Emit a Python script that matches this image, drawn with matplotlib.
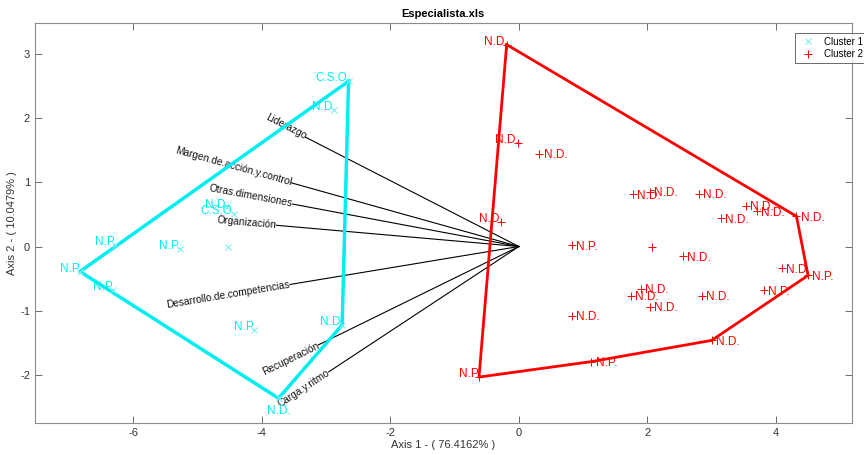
import numpy as np
import matplotlib
matplotlib.use('Agg')
import matplotlib.pyplot as plt

plt.rcParams['font.family'] = ['Liberation Sans', 'DejaVu Sans']
plt.rcParams['axes.unicode_minus'] = False

# cluster 1 (cyan x) points, labels and where the label sits
c1_x = [-2.65, -2.87, -4.54, -4.44, -4.52, -5.28, -6.28, -6.83, -6.32, -4.12, -2.75, -3.74]
c1_y = [2.57, 2.12, 0.61, 0.51, -0.01, -0.04, 0.03, -0.39, -0.68, -1.30, -1.22, -2.36]
c1_lab = ['C.S.O.', 'N.D.', 'N.D.', 'C.S.O.', '', 'N.P.', 'N.P.', 'N.P.', 'N.P.', 'N.P.', 'N.D.', 'N.D.']
c1_side = ['l', 'l', 'l', 'l', 'l', 'l', 'l', 'l', 'l', 'l', 'l', 'b']
c1_hull = [0, 10, 11, 7, 0]

# cluster 2 (red +)
c2_x = [-0.19, -0.02, 0.32, 1.77, 2.04, 2.80, 3.53, 3.71, 3.15, 4.32, -0.28, 0.82, 2.07,
        2.55, 4.09, 4.50, 3.81, 1.90, 1.75, 2.85, 2.04, 0.83, 3.00, 1.13, -0.62]
c2_y = [3.14, 1.61, 1.44, 0.81, 0.85, 0.82, 0.63, 0.55, 0.44, 0.47, 0.38, 0.02, 0.00,
        -0.15, -0.34, -0.45, -0.68, -0.66, -0.77, -0.77, -0.94, -1.08, -1.46, -1.79, -2.03]
c2_lab = ['N.D.', 'N.D.', 'N.D.', 'N.D.', 'N.D.', 'N.D.', 'N.D.', 'N.D.', 'N.D.', 'N.D.', 'N.D.', 'N.P.', '',
          'N.D.', 'N.D.', 'N.P.', 'N.P.', 'N.D.', 'N.D.', 'N.D.', 'N.D.', 'N.D.', 'N.D.', 'N.P.', 'N.P.']
c2_side = ['l', 'l', 'r', 'r', 'r', 'r', 'r', 'r', 'r', 'r', 'l', 'r', 'r',
           'r', 'r', 'r', 'r', 'r', 'r', 'r', 'r', 'r', 'r', 'r', 'l']
c2_hull = [0, 9, 15, 22, 23, 24, 0]

# variable vectors of the biplot
var_names = ['Liderazgo', 'Margen.de.acción.y.control', 'Otras.dimensiones', 'Organización',
             'Desarrollo.de.competencias', 'Recuperación', 'Carga.y.ritmo']
var_x = [-3.32, -3.54, -3.52, -3.77, -3.56, -3.12, -2.96]
var_y = [1.70, 0.99, 0.66, 0.33, -0.59, -1.53, -1.95]

cyan = '#00eef0'
red = '#ff0000'

fig = plt.figure(figsize=(8.64, 4.55), dpi=100)
ax = fig.add_axes([0.0405, 0.071, 0.9453, 0.879])
ax.set_xlim(-7.53, 5.18)
ax.set_ylim(-2.74, 3.48)

# biplot lines + rotated names
for name, x, y in zip(var_names, var_x, var_y):
    ax.plot([0, x], [0, y], color='black', lw=0.8, zorder=2)
    ang = np.degrees(np.arctan2(-y, -x))
    ax.text(x, y, name, rotation=ang, rotation_mode='anchor', ha='right', va='center',
            fontsize=7.3, color='#111111', transform_rotates_text=True, zorder=3)

# hulls
ax.plot([c1_x[i] for i in c1_hull], [c1_y[i] for i in c1_hull], color=cyan, lw=2.5, zorder=4)
ax.plot([c2_x[i] for i in c2_hull], [c2_y[i] for i in c2_hull], color=red, lw=2.0, zorder=4)

# points
ax.plot(c1_x, c1_y, 'x', color='#7ff0f0', ms=4, mew=0.8, ls='none', label='Cluster 1', zorder=5)
ax.plot(c2_x, c2_y, '+', color=red, ms=6, mew=0.7, ls='none', label='Cluster 2', zorder=5)

def put_labels(xs, ys, labs, sides, col):
    for x, y, s, side in zip(xs, ys, labs, sides):
        if not s:
            continue
        if side == 'l':
            ax.annotate(s, (x, y), xytext=(1, 2), textcoords='offset points',
                        ha='right', va='center', fontsize=8.5, color=col, zorder=6)
        elif side == 'r':
            ax.annotate(s, (x, y), xytext=(3, -1), textcoords='offset points',
                        ha='left', va='center', fontsize=8.5, color=col, zorder=6)
        else:
            ax.annotate(s, (x, y), xytext=(0, -9), textcoords='offset points',
                        ha='center', va='center', fontsize=8.5, color=col, zorder=6)

put_labels(c1_x, c1_y, c1_lab, c1_side, cyan)
put_labels(c2_x, c2_y, c2_lab, c2_side, red)

# matlab-ish axes look
ax.set_xticks([-6, -4, -2, 0, 2, 4])
ax.set_yticks([-2, -1, 0, 1, 2, 3])
ax.tick_params(direction='in', top=True, right=True, length=5, width=0.6,
               colors='#555555', labelsize=8, labelcolor='#333333')
for sp in ax.spines.values():
    sp.set_color('#8c8c8c')
    sp.set_linewidth(0.8)

ax.set_title('Especialista.xls', fontsize=8, fontweight='bold', pad=4)
ax.set_xlabel('Axis 1 - ( 76.4162% )', fontsize=8, color='#333333', labelpad=2)
ax.set_ylabel('Axis 2 - ( 10.0479% )', fontsize=8, color='#333333', labelpad=2)

leg = fig.legend(loc='upper left', bbox_to_anchor=(790 / 864, 1 - 28 / 455), fontsize=7,
                 frameon=True, fancybox=False, edgecolor='#444444', borderpad=0.4,
                 handlelength=2.0, handletextpad=0.6, labelspacing=0.25)
leg.get_frame().set_linewidth(0.7)

fig.savefig('out.png', dpi=100)
